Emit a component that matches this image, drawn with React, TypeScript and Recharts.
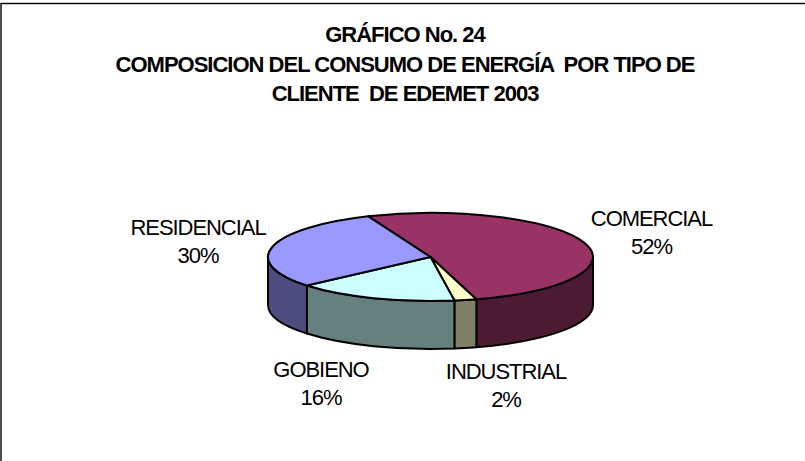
import { Pie, PieChart } from 'recharts';

const CATEGORIES = ['COMERCIAL', 'INDUSTRIAL', 'GOBIENO', 'RESIDENCIAL'];
// the labels show these rounded
const SHARES = [51.7, 2.2, 16.1, 30];
const TITLE_LINES = [
  'GRÁFICO No. 24',
  'COMPOSICION DEL CONSUMO DE ENERGÍA  POR TIPO DE',
  'CLIENTE  DE EDEMET 2003',
];

const TOP_COLORS = ['#993366', '#ffffcc', '#ccffff', '#9999ff'];
const WALL_COLORS = ['#4d1a33', '#808066', '#668080', '#4d4d80'];
const LABEL_SPOTS = [
  { x: 651.5, y: 226 },
  { x: 506, y: 379 },
  { x: 321, y: 377 },
  { x: 198, y: 235 },
];

const WIDTH = 805;
const HEIGHT = 461;
const TILT = 44 / 162.5;
const DEPTH = 48;
const FONT = '"Liberation Sans", Arial, sans-serif';

const chartData = CATEGORIES.map((name, i) => ({
  name,
  value: SHARES[i],
  fill: TOP_COLORS[i],
  wall: WALL_COLORS[i],
  spot: LABEL_SPOTS[i],
}));

// flattens the sector recharts hands us into an ellipse and adds the side wall
function TiltedSector(props: any) {
  const { cx, cy, outerRadius, startAngle, endAngle, fill, payload } = props;
  const rx = outerRadius;
  const ry = outerRadius * TILT;
  const px = (deg: number) => cx + rx * Math.cos((deg * Math.PI) / 180);
  const py = (deg: number) => cy - ry * Math.sin((deg * Math.PI) / 180);
  const largeArc = Math.abs(startAngle - endAngle) > 180 ? 1 : 0;

  const top = `M${cx},${cy}L${px(startAngle)},${py(startAngle)}A${rx},${ry} 0 ${largeArc} 1 ${px(endAngle)},${py(endAngle)}Z`;

  // only the part of the rim on the near side (0 to -180 deg) shows a wall
  const wallStart = Math.min(startAngle, 0);
  const wallEnd = Math.max(endAngle, -180);
  const wall =
    wallStart > wallEnd
      ? `M${px(wallStart)},${py(wallStart)}A${rx},${ry} 0 0 1 ${px(wallEnd)},${py(wallEnd)}` +
        `L${px(wallEnd)},${py(wallEnd) + DEPTH}A${rx},${ry} 0 0 0 ${px(wallStart)},${py(wallStart) + DEPTH}Z`
      : null;

  return (
    <g>
      {wall ? <path d={wall} fill={payload.wall} stroke="#000" strokeWidth={2} strokeLinejoin="round" /> : null}
      <path d={top} fill={fill} stroke="#000" strokeWidth={2} strokeLinejoin="round" />
    </g>
  );
}

function SliceLabel(props: any) {
  const { name, value, payload } = props;
  const { x, y } = payload.spot;
  return (
    <text x={x} textAnchor="middle" fontFamily={FONT} fontSize={22} letterSpacing={-1.05} fill="#000">
      <tspan x={x} y={y}>{name}</tspan>
      <tspan x={x} y={y + 28}>{Math.round(value)}%</tspan>
    </text>
  );
}

export default function App() {
  return (
    <div style={{ position: 'absolute', left: 0, top: 0, width: WIDTH, height: HEIGHT, background: '#fff' }}>
      <PieChart width={WIDTH} height={HEIGHT} margin={{ top: 0, right: 0, bottom: 0, left: 0 }}>
        <rect x={1} y={3.5} width={WIDTH + 10} height={HEIGHT + 10} fill="#fff" stroke="#000" strokeWidth={1.4} />
        {TITLE_LINES.map((line, i) => (
          <text
            key={line}
            x={405}
            y={42 + i * 29.5}
            textAnchor="middle"
            fontFamily={FONT}
            fontWeight="bold"
            fontSize={22}
            letterSpacing={-1}
            xmlSpace="preserve"
            style={{ whiteSpace: 'pre' }}
            fill="#000"
          >
            {line}
          </text>
        ))}
        <Pie
          data={chartData}
          dataKey="value"
          nameKey="name"
          cx={430.5}
          cy={257}
          outerRadius={162.5}
          startAngle={112.5}
          endAngle={-247.5}
          stroke="none"
          labelLine={false}
          label={SliceLabel}
          shape={TiltedSector}
          isAnimationActive={false}
        />
      </PieChart>
    </div>
  );
}
